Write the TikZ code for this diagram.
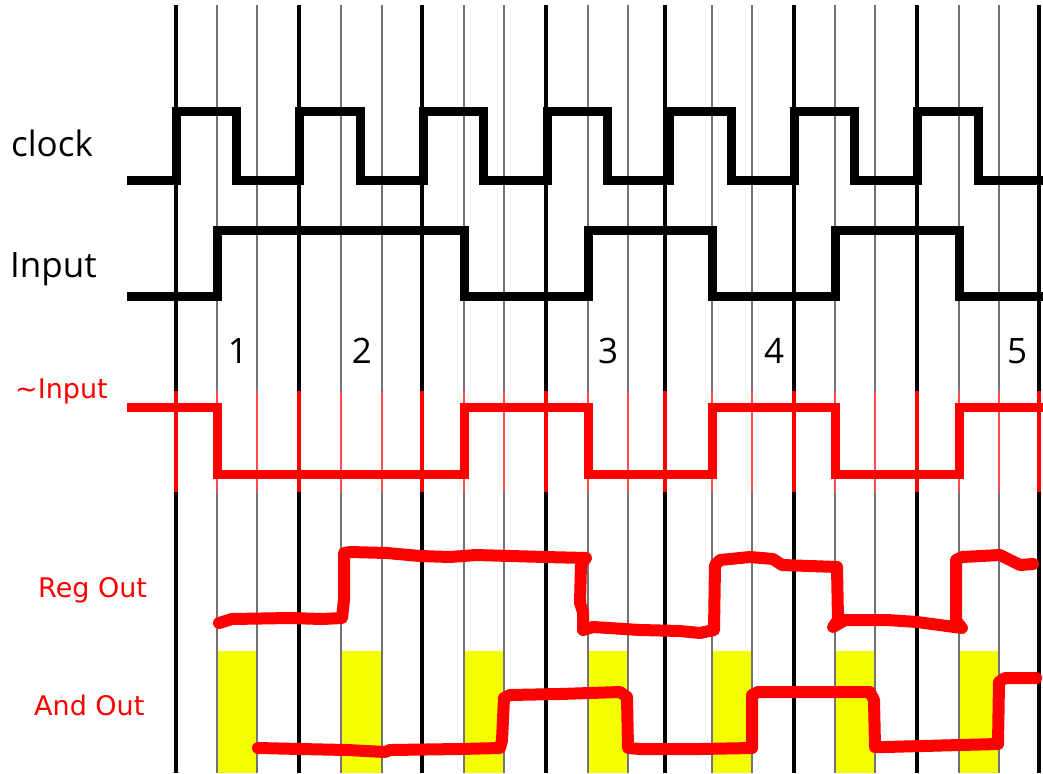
\documentclass[tikz,border=0pt]{standalone}
\usepackage{fontspec}
\setmainfont{Open Sans}
\newfontfamily\redfont{DejaVu Sans}
\definecolor{baryellow}{RGB}{245,255,0}
\begin{document}
\begin{tikzpicture}[x=1pt,y=-1pt,
  gridthick/.style={line width=3.3pt},
  gridthin/.style={line width=1.3pt},
  wave/.style={line width=9pt,line join=miter,line cap=butt},
  hand/.style={red,line width=12pt,line cap=round,line join=round},
  blacklabel/.style={anchor=base west,inner sep=0pt,font=\fontsize{35}{42}\selectfont},
  numlabel/.style={anchor=base,inner sep=0pt,font=\fontsize{35}{42}\selectfont},
  redlabel/.style={anchor=base west,inner sep=0pt,text=red,font=\redfont\fontsize{27}{32}\selectfont}]
\useasboundingbox (0,0) rectangle (1043,773);
% yellow bars
\foreach \x in {217,341,464,588,712,835,959}
  \fill[baryellow] (\x,651) rectangle (\x+40,773);
% grid lines
\foreach \x in {217,257,341,382,464,504,588,628,712,752,835,875,959,999} {
  \draw[gridthin,black!55] (\x,5) -- (\x,391);
  \draw[gridthin,red!70] (\x,391) -- (\x,492);
  \draw[gridthin,black!55] (\x,492) -- (\x,773);
}
\foreach \x in {176,299,422,546,665,794,917,1039} {
  \draw[gridthick,black] (\x,5) -- (\x,391);
  \draw[gridthick,red] (\x,391) -- (\x,492);
  \draw[gridthick,black] (\x,492) -- (\x,773);
}
% clock
\draw[wave] (127,180) -- (176,180) -- (176,112) -- (236,112) -- (236,180) -- (299,180) -- (299,112)
  -- (360,112) -- (360,180) -- (423,180) -- (423,112) -- (483,112) -- (483,180) -- (547,180) -- (547,112)
  -- (607,112) -- (607,180) -- (669,180) -- (669,112) -- (731,112) -- (731,180) -- (794,180) -- (794,112)
  -- (854,112) -- (854,180) -- (917,180) -- (917,112) -- (978,112) -- (978,180) -- (1043,180);
% input
\draw[wave] (127,296) -- (217,296) -- (217,230) -- (464,230) -- (464,296) -- (588,296) -- (588,230)
  -- (712,230) -- (712,296) -- (835,296) -- (835,230) -- (959,230) -- (959,296) -- (1043,296);
% ~input
\draw[wave,red] (127,407) -- (217,407) -- (217,474) -- (464,474) -- (464,407) -- (588,407) -- (588,474)
  -- (712,474) -- (712,407) -- (835,407) -- (835,474) -- (959,474) -- (959,407) -- (1043,407);
% Reg Out (hand drawn)
\draw[hand] (219,623) -- (232,619) -- (290,618) -- (322,619) -- (342,618) -- (344,600) -- (344,553)
  -- (350,552) -- (387,553) -- (420,556) -- (450,557) -- (476,555) -- (510,556) -- (545,557) -- (586,558)
  -- (581,564) -- (580,603) -- (583,612) -- (583,630) -- (593,627) -- (640,630) -- (680,631) -- (700,633)
  -- (714,630) -- (715,565) -- (720,560) -- (750,557) -- (773,559) -- (782,565) -- (837,567)
  -- (838,620) -- (833,627) -- (845,620) -- (887,620) -- (917,622) -- (962,628) -- (956,621) -- (956,560)
  -- (962,557) -- (1000,555) -- (1020,565) -- (1033,564);
% And Out (hand drawn)
\draw[hand] (258,748) -- (300,749) -- (347,750) -- (385,752) -- (390,750) -- (460,749) -- (500,748)
  -- (502,740) -- (504,698) -- (510,695) -- (560,694) -- (620,692) -- (627,697) -- (628,748) -- (640,749)
  -- (700,749) -- (752,748) -- (752,695) -- (758,692) -- (870,692) -- (874,700) -- (875,747) -- (885,747)
  -- (998,744) -- (999,682) -- (1005,678) -- (1036,678);
% labels
\node[blacklabel] (lclock) at (11,156) {clock};
\node[blacklabel] (linput) at (10,277) {Input};
\node[redlabel] (lninput) at (15,398) {\textasciitilde Input};
\node[redlabel] (lreg) at (38,597) {Reg Out};
\node[redlabel] (land) at (34,715) {And Out};
\node[numlabel] (n1) at (238,363) {1};
\node[numlabel] (n2) at (362,363) {2};
\node[numlabel] (n3) at (608,363) {3};
\node[numlabel] (n4) at (774,363) {4};
\node[numlabel] (n5) at (1017,363) {5};
\end{tikzpicture}
\end{document}
